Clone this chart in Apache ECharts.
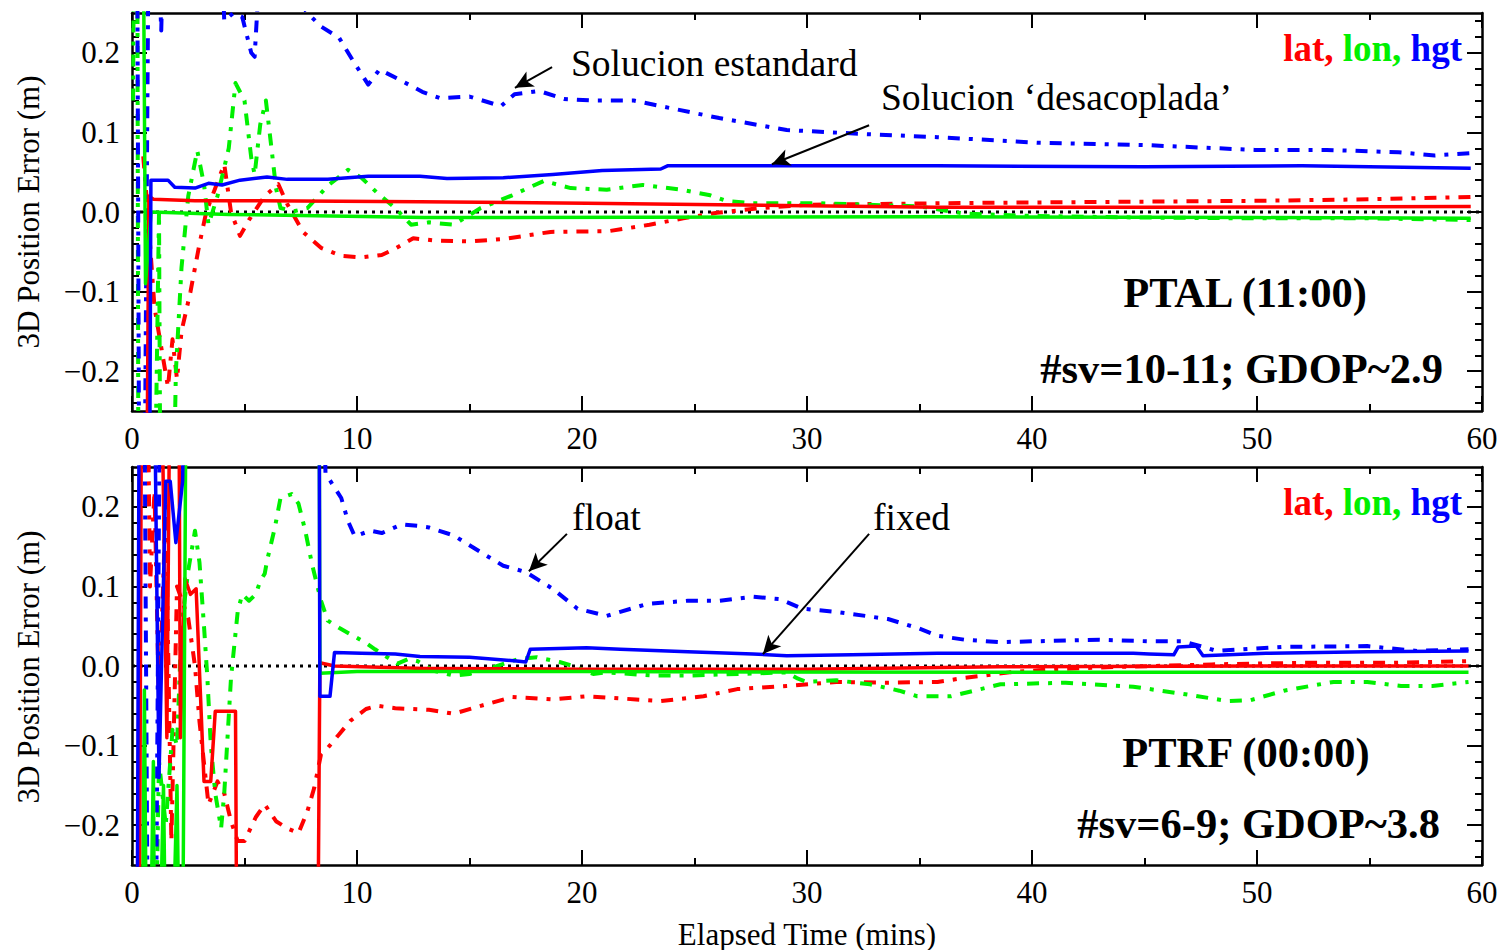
<!DOCTYPE html>
<html>
<head>
<meta charset="utf-8">
<title>3D Position Error</title>
<script src="https://cdn.jsdelivr.net/npm/echarts@6/dist/echarts.min.js"></script>
<style>
  html, body { margin: 0; padding: 0; background: #ffffff; font-family: "Liberation Serif", serif; }
  #chart { width: 1501px; height: 950px; }
</style>
</head>
<body>
<div id="chart"></div>
<script>
// Axis ticks
const xTicks = [0, 10, 20, 30, 40, 50, 60];
const yTickValues = [-0.2, -0.1, 0.0, 0.1, 0.2];

// PTAL (11:00): standard solution (dash-dot) and decoupled solution (solid), [minutes, metres]
const ptalLatStd = [[0.5,0.07],[0.7,0.0],[1.0,-0.12],[1.3,-0.17],[1.6,-0.22],[1.8,-0.16],[2.0,-0.21],[2.2,-0.15],[2.6,-0.1],[3.0,-0.04],[3.3,0.0],[3.7,0.03],[4.1,0.06],[4.4,0.0],[4.8,-0.03],[5.2,-0.01],[5.9,0.02],[6.5,0.035],[6.9,0.01],[7.6,-0.025],[8.4,-0.045],[9.3,-0.055],[10.2,-0.057],[11.1,-0.054],[11.7,-0.046],[12.5,-0.033],[13.5,-0.036],[15.0,-0.037],[16.5,-0.034],[18.6,-0.025],[21.2,-0.024],[23.0,-0.016],[24.5,-0.008],[26.0,-0.001],[28.0,0.005],[30.0,0.009],[35.8,0.011],[40,0.012],[45,0.013],[50,0.014],[55,0.016],[59.5,0.019]];
const ptalLonStd = [[0.05,0.14],[0.12,0.6],[0.22,0.6],[0.3,-0.6],[0.9,-0.6],[1.2,0.0],[1.3,-0.6],[1.7,-0.6],[1.95,-0.2],[2.2,-0.07],[2.5,0.02],[2.9,0.077],[3.2,0.035],[3.4,-0.016],[3.8,0.02],[4.3,0.08],[4.6,0.162],[5.0,0.14],[5.3,0.068],[5.45,0.047],[5.7,0.11],[5.95,0.14],[6.2,0.08],[6.4,0.03],[6.6,0.005],[7.2,0.001],[7.8,0.005],[8.7,0.033],[9.6,0.053],[10.2,0.043],[10.9,0.024],[11.7,0.005],[12.4,-0.016],[13.2,-0.013],[14.3,-0.016],[15.5,0.005],[16.9,0.021],[18.3,0.039],[19.5,0.03],[21.1,0.028],[22.7,0.034],[24.4,0.028],[25.7,0.021],[26.4,0.014],[27.6,0.011],[30.6,0.011],[35,0.007],[37,-0.002],[40,-0.005],[45,-0.007],[50,-0.008],[55,-0.008],[59.5,-0.01]];
const ptalHgtStd = [[0.2,0.6],[0.35,-0.6],[0.5,-0.6],[0.8,0.6],[1.2,0.3],[1.3,0.228],[1.45,0.4],[3.9,0.4],[4.1,0.24],[4.5,0.25],[4.9,0.245],[5.3,0.2],[5.45,0.195],[5.6,0.27],[6.4,0.3],[7.3,0.27],[7.8,0.25],[8.4,0.233],[9.2,0.219],[9.8,0.191],[10.5,0.16],[11.0,0.179],[11.9,0.166],[12.9,0.151],[13.7,0.143],[15.0,0.145],[16.4,0.133],[17.0,0.148],[18.1,0.152],[19.2,0.142],[20.5,0.14],[22.3,0.14],[23.5,0.133],[26.1,0.118],[29.1,0.103],[32.5,0.098],[35.8,0.094],[40.3,0.087],[45.1,0.084],[49.9,0.078],[53.1,0.078],[56.3,0.075],[57.9,0.071],[59.5,0.074]];
const ptalLatDec = [[0.6,-0.6],[0.75,0.02],[0.95,0.016],[2.8,0.014],[5.7,0.014],[12.8,0.013],[20.2,0.011],[26.1,0.009],[35.8,0.006],[45,0.006],[59.5,0.007]];
const ptalLonDec = [[0.45,0.6],[0.6,-0.09],[0.85,0.0],[4.3,-0.003],[13.0,-0.007],[35.8,-0.006],[50,-0.007],[59.5,-0.008]];
const ptalHgtDec = [[0.75,-0.6],[0.84,0.040],[1.3,0.040],[1.6,0.040],[1.9,0.031],[2.8,0.030],[3.4,0.036],[4.0,0.034],[4.8,0.040],[6.0,0.044],[6.9,0.041],[8.7,0.041],[10.5,0.045],[12.8,0.045],[14.0,0.042],[16.5,0.043],[18.7,0.047],[20.9,0.052],[23.5,0.054],[23.8,0.058],[27.6,0.058],[35.8,0.058],[45,0.057],[52,0.058],[59.5,0.055]];

// PTRF (00:00): float solution (dash-dot) and fixed solution (solid)
const ptrfLatFloat = [[0.6,0.6],[0.8,0.1],[1.0,0.22],[1.2,-0.05],[1.5,0.2],[1.75,-0.22],[2.0,0.1],[2.5,0.06],[2.8,0.0],[3.0,-0.07],[3.4,-0.174],[3.8,-0.145],[4.1,-0.16],[4.4,-0.195],[4.7,-0.22],[5.0,-0.22],[5.5,-0.19],[5.9,-0.174],[6.4,-0.195],[6.9,-0.204],[7.4,-0.21],[7.8,-0.182],[8.1,-0.153],[8.4,-0.111],[8.7,-0.103],[9.2,-0.086],[9.7,-0.069],[10.4,-0.054],[10.9,-0.05],[11.7,-0.053],[12.4,-0.054],[13.2,-0.055],[14.3,-0.06],[15.5,-0.05],[16.9,-0.039],[18.7,-0.042],[20.2,-0.038],[22.4,-0.042],[23.5,-0.044],[25.4,-0.038],[26.9,-0.029],[29.1,-0.025],[31.3,-0.02],[33.6,-0.021],[35.8,-0.02],[37,-0.015],[39,-0.008],[41,-0.004],[44,-0.001],[48,0.002],[52,0.004],[56,0.004],[59.4,0.006]];
const ptrfLonFloat = [[0.3,-0.6],[0.9,-0.6],[1.2,-0.12],[1.5,-0.2],[1.8,-0.08],[2.0,-0.1],[2.2,0.05],[2.5,0.12],[2.8,0.17],[3.0,0.13],[3.2,0.05],[3.35,-0.015],[3.5,-0.098],[3.7,-0.16],[3.96,-0.204],[4.1,-0.16],[4.27,-0.078],[4.4,-0.015],[4.7,0.069],[4.9,0.09],[5.2,0.082],[5.5,0.09],[5.7,0.107],[5.9,0.116],[6.0,0.132],[6.35,0.174],[6.6,0.211],[7.1,0.216],[7.4,0.204],[7.7,0.17],[8.0,0.128],[8.4,0.082],[8.7,0.057],[9.2,0.048],[9.7,0.04],[10.4,0.029],[10.8,0.021],[11.4,0.01],[11.8,0.003],[12.3,0.009],[12.7,0.006],[13.4,-0.006],[14.3,-0.012],[15.0,-0.01],[15.8,-0.004],[17.2,0.009],[18.0,0.011],[19.0,0.005],[19.6,0.0],[20.5,-0.01],[21.1,-0.008],[23.2,-0.012],[24.7,-0.012],[29.1,-0.008],[29.6,-0.016],[30.0,-0.02],[31.3,-0.018],[32.8,-0.023],[34.1,-0.031],[34.9,-0.038],[36.4,-0.038],[38.6,-0.023],[41.5,-0.021],[44.5,-0.026],[46.7,-0.035],[48.7,-0.044],[49.7,-0.043],[51.2,-0.031],[53.4,-0.02],[54.9,-0.02],[56.4,-0.025],[57.8,-0.025],[59.4,-0.02]];
const ptrfHgtFloat = [[0.5,0.6],[0.75,-0.6],[1.0,-0.6],[1.3,0.6],[8.3,0.6],[8.6,0.242],[9.3,0.211],[9.6,0.182],[9.9,0.163],[10.6,0.17],[11.1,0.167],[12.0,0.178],[12.7,0.176],[13.2,0.174],[14.3,0.164],[15.5,0.143],[16.5,0.126],[17.5,0.118],[18.7,0.097],[19.8,0.072],[21.1,0.063],[21.7,0.068],[22.9,0.078],[24.7,0.082],[26.1,0.082],[27.6,0.087],[28.8,0.084],[29.8,0.072],[31.3,0.068],[33.6,0.059],[35.0,0.047],[35.8,0.038],[37.0,0.033],[38.6,0.030],[43,0.033],[45.2,0.031],[46.7,0.031],[47.5,0.025],[48.2,0.019],[51.2,0.024],[54.9,0.025],[57.1,0.019],[59.4,0.021]];
const ptrfLatFixed = [[0.3,-0.6],[0.45,0.6],[1.2,0.6],[1.55,-0.09],[1.75,0.6],[2.05,0.6],[2.15,-0.09],[2.35,0.11],[2.6,0.09],[2.85,0.097],[3.2,-0.145],[3.5,-0.145],[3.7,-0.057],[4.6,-0.057],[4.7,-0.6],[8.2,-0.6],[8.35,0.004],[9.0,0.0],[13,-0.003],[20,-0.004],[30,-0.004],[38.6,-0.001],[50,0.0],[59.4,0.0]];
const ptrfLonFixed = [[0.4,-0.6],[0.55,-0.03],[0.7,-0.6],[0.95,-0.12],[1.05,-0.6],[1.4,-0.15],[1.6,-0.6],[2.0,-0.15],[2.2,-0.6],[2.3,-0.15],[2.45,0.6],[8.3,0.6],[8.35,-0.009],[10,-0.007],[20,-0.007],[40,-0.008],[59.4,-0.008]];
const ptrfHgtFixed = [[0.2,-0.6],[0.35,0.6],[0.9,0.6],[1.2,-0.14],[1.5,0.232],[1.7,0.232],[1.95,0.155],[2.25,0.232],[2.45,0.6],[8.3,0.6],[8.35,-0.038],[8.8,-0.038],[9.0,0.017],[10.2,0.016],[11.7,0.015],[12.8,0.012],[15.0,0.011],[17.2,0.006],[17.5,0.005],[17.7,0.021],[20.2,0.023],[21.7,0.021],[24.7,0.018],[27.6,0.015],[29.1,0.013],[32.0,0.014],[35.8,0.016],[38.6,0.016],[44.5,0.016],[45.2,0.015],[46.3,0.014],[46.5,0.024],[47.3,0.025],[47.6,0.013],[50.4,0.016],[54.9,0.018],[59.4,0.019]];

// Annotation arrows: [tail, head] in data units
const ptalArrows = [[[18.67, 0.182], [17.02, 0.156]], [[32.76, 0.109], [28.44, 0.060]]];
const ptrfArrows = [[[19.33, 0.166], [17.64, 0.119]], [[32.76, 0.166], [28.04, 0.015]]];

const SERIF = 'Liberation Serif';
const FONT = '"Liberation Serif", "Times New Roman", Times, serif';
const RED = '#ff0000', GREEN = '#00f000', BLUE = '#0000ff';
const DASHDOT = [12, 9, 4, 9];

const minorY = [];
for (let k = -12; k <= 12; k++) { if (k % 5 !== 0) minorY.push(k / 50); }

// tick label text, set in the serif face through a rich-text style
const tickRich = { s: { fontFamily: SERIF, fontSize: 31, color: '#000' } };
const yFmt = v => '{s|' + (v < 0 ? '\u2212' : '') + Math.abs(v).toFixed(1) + '}';
const xFmt = v => (xTicks.includes(v) ? '{s|' + v + '}' : '');

const grids = [
  { left: 132, top: 13, width: 1350, height: 398 },
  { left: 132, top: 467, width: 1350, height: 398 }
];

const labelStyle = { color: '#000', fontFamily: SERIF, fontSize: 31, rich: tickRich };

const xAxes = [], yAxes = [];
grids.forEach((g, gi) => {
  ['bottom', 'top'].forEach(pos => {
    xAxes.push({
      gridIndex: gi, type: 'value', position: pos, min: 0, max: 60, interval: 10,
      axisLine: { show: true, onZero: false, lineStyle: { color: '#000', width: 2.5 } },
      axisTick: { show: true, inside: true, length: 15, lineStyle: { color: '#000', width: 2 } },
      minorTick: { show: true, splitNumber: 2, length: 7, lineStyle: { color: '#000', width: 2 } },
      axisLabel: Object.assign({ show: pos === 'bottom', margin: 12, formatter: xFmt }, labelStyle),
      splitLine: { show: false }, minorSplitLine: { show: false }
    });
  });
  ['left', 'right'].forEach(pos => {
    yAxes.push({
      gridIndex: gi, type: 'value', position: pos, min: -0.25, max: 0.25,
      axisLine: { show: true, onZero: false, lineStyle: { color: '#000', width: 2.5 } },
      axisTick: { show: true, inside: true, length: 15, customValues: yTickValues, lineStyle: { color: '#000', width: 2 } },
      axisLabel: Object.assign({ show: pos === 'left', customValues: yTickValues, margin: 12, formatter: yFmt }, labelStyle),
      splitLine: { show: false }
    });
    yAxes.push({
      gridIndex: gi, type: 'value', position: pos, min: -0.25, max: 0.25,
      axisLine: { show: false, onZero: false },
      axisTick: { show: true, inside: true, length: 7, customValues: minorY, lineStyle: { color: '#000', width: 2 } },
      axisLabel: { show: false },
      splitLine: { show: false }
    });
  });
});

function line(data, color, dashed, gi) {
  return {
    type: 'line', data: data, xAxisIndex: gi * 2, yAxisIndex: gi * 4,
    showSymbol: false, symbol: 'none', silent: true, animation: false, clip: true,
    z: dashed ? 3 : 4,
    lineStyle: { color: color, width: dashed ? 4 : 3.5, type: dashed ? DASHDOT : 'solid', join: 'round' }
  };
}

function zeroLine(gi, arrows) {
  return {
    type: 'line', data: [[0, 0], [60, 0]], xAxisIndex: gi * 2, yAxisIndex: gi * 4,
    showSymbol: false, symbol: 'none', silent: true, animation: false, z: 2,
    lineStyle: { color: '#000', width: 3, type: [3, 5] },
    markLine: {
      silent: true, animation: false, symbol: ['none', 'arrow'], symbolSize: [13, 18],
      label: { show: false },
      lineStyle: { color: '#000', width: 2, type: 'solid' },
      data: arrows.map(a => [{ coord: a[0] }, { coord: a[1] }])
    }
  };
}

const series = [
  zeroLine(0, ptalArrows),
  line(ptalLatStd, RED, true, 0), line(ptalLonStd, GREEN, true, 0), line(ptalHgtStd, BLUE, true, 0),
  line(ptalLatDec, RED, false, 0), line(ptalLonDec, GREEN, false, 0), line(ptalHgtDec, BLUE, false, 0),
  zeroLine(1, ptrfArrows),
  line(ptrfLatFloat, RED, true, 1), line(ptrfLonFloat, GREEN, true, 1), line(ptrfHgtFloat, BLUE, true, 1),
  line(ptrfLatFixed, RED, false, 1), line(ptrfLonFixed, GREEN, false, 1), line(ptrfHgtFixed, BLUE, false, 1)
];

function txt(text, x, y, size, opts) {
  opts = opts || {};
  return {
    type: 'text', x: x, y: y, rotation: opts.rotation || 0, z: 100, silent: true,
    style: {
      text: text, fill: '#000', textAlign: opts.align || 'left', textVerticalAlign: 'middle',
      font: (opts.bold ? 'bold ' : '') + size + 'px ' + FONT, rich: opts.rich
    }
  };
}

const legendRich = {
  r: { fill: RED, fontFamily: SERIF, fontSize: 37, fontWeight: 'bold' },
  g: { fill: GREEN, fontFamily: SERIF, fontSize: 37, fontWeight: 'bold' },
  b: { fill: BLUE, fontFamily: SERIF, fontSize: 37, fontWeight: 'bold' }
};

const graphic = [
  txt('3D Position Error (m)', 28, 212, 31, { rotation: Math.PI / 2, align: 'center' }),
  txt('3D Position Error (m)', 28, 667, 31, { rotation: Math.PI / 2, align: 'center' }),
  txt('Elapsed Time (mins)', 807, 934, 31, { align: 'center' }),
  txt('Solucion estandard', 571, 63, 37.5),
  txt('Solucion \u2018desacoplada\u2019', 881, 97, 37.5),
  txt('float', 572, 517, 37.5),
  txt('fixed', 873, 517, 37.5),
  txt('{r|lat,} {g|lon,} {b|hgt}', 1462, 48, 37, { bold: true, align: 'right', rich: legendRich }),
  txt('{r|lat,} {g|lon,} {b|hgt}', 1462, 502, 37, { bold: true, align: 'right', rich: legendRich }),
  txt('PTAL (11:00)', 1245, 292, 42.5, { bold: true, align: 'center' }),
  txt('#sv=10-11; GDOP~2.9', 1443, 368, 42.5, { bold: true, align: 'right' }),
  txt('PTRF (00:00)', 1246, 752, 42.5, { bold: true, align: 'center' }),
  txt('#sv=6-9; GDOP~3.8', 1440, 823, 42.5, { bold: true, align: 'right' })
];

const chart = echarts.init(document.getElementById('chart'), null, { renderer: 'svg', width: 1501, height: 950 });
chart.setOption({
  backgroundColor: '#ffffff',
  animation: false,
  textStyle: { fontFamily: SERIF },
  grid: grids,
  xAxis: xAxes,
  yAxis: yAxes,
  series: series,
  graphic: graphic
});
</script>
</body>
</html>
